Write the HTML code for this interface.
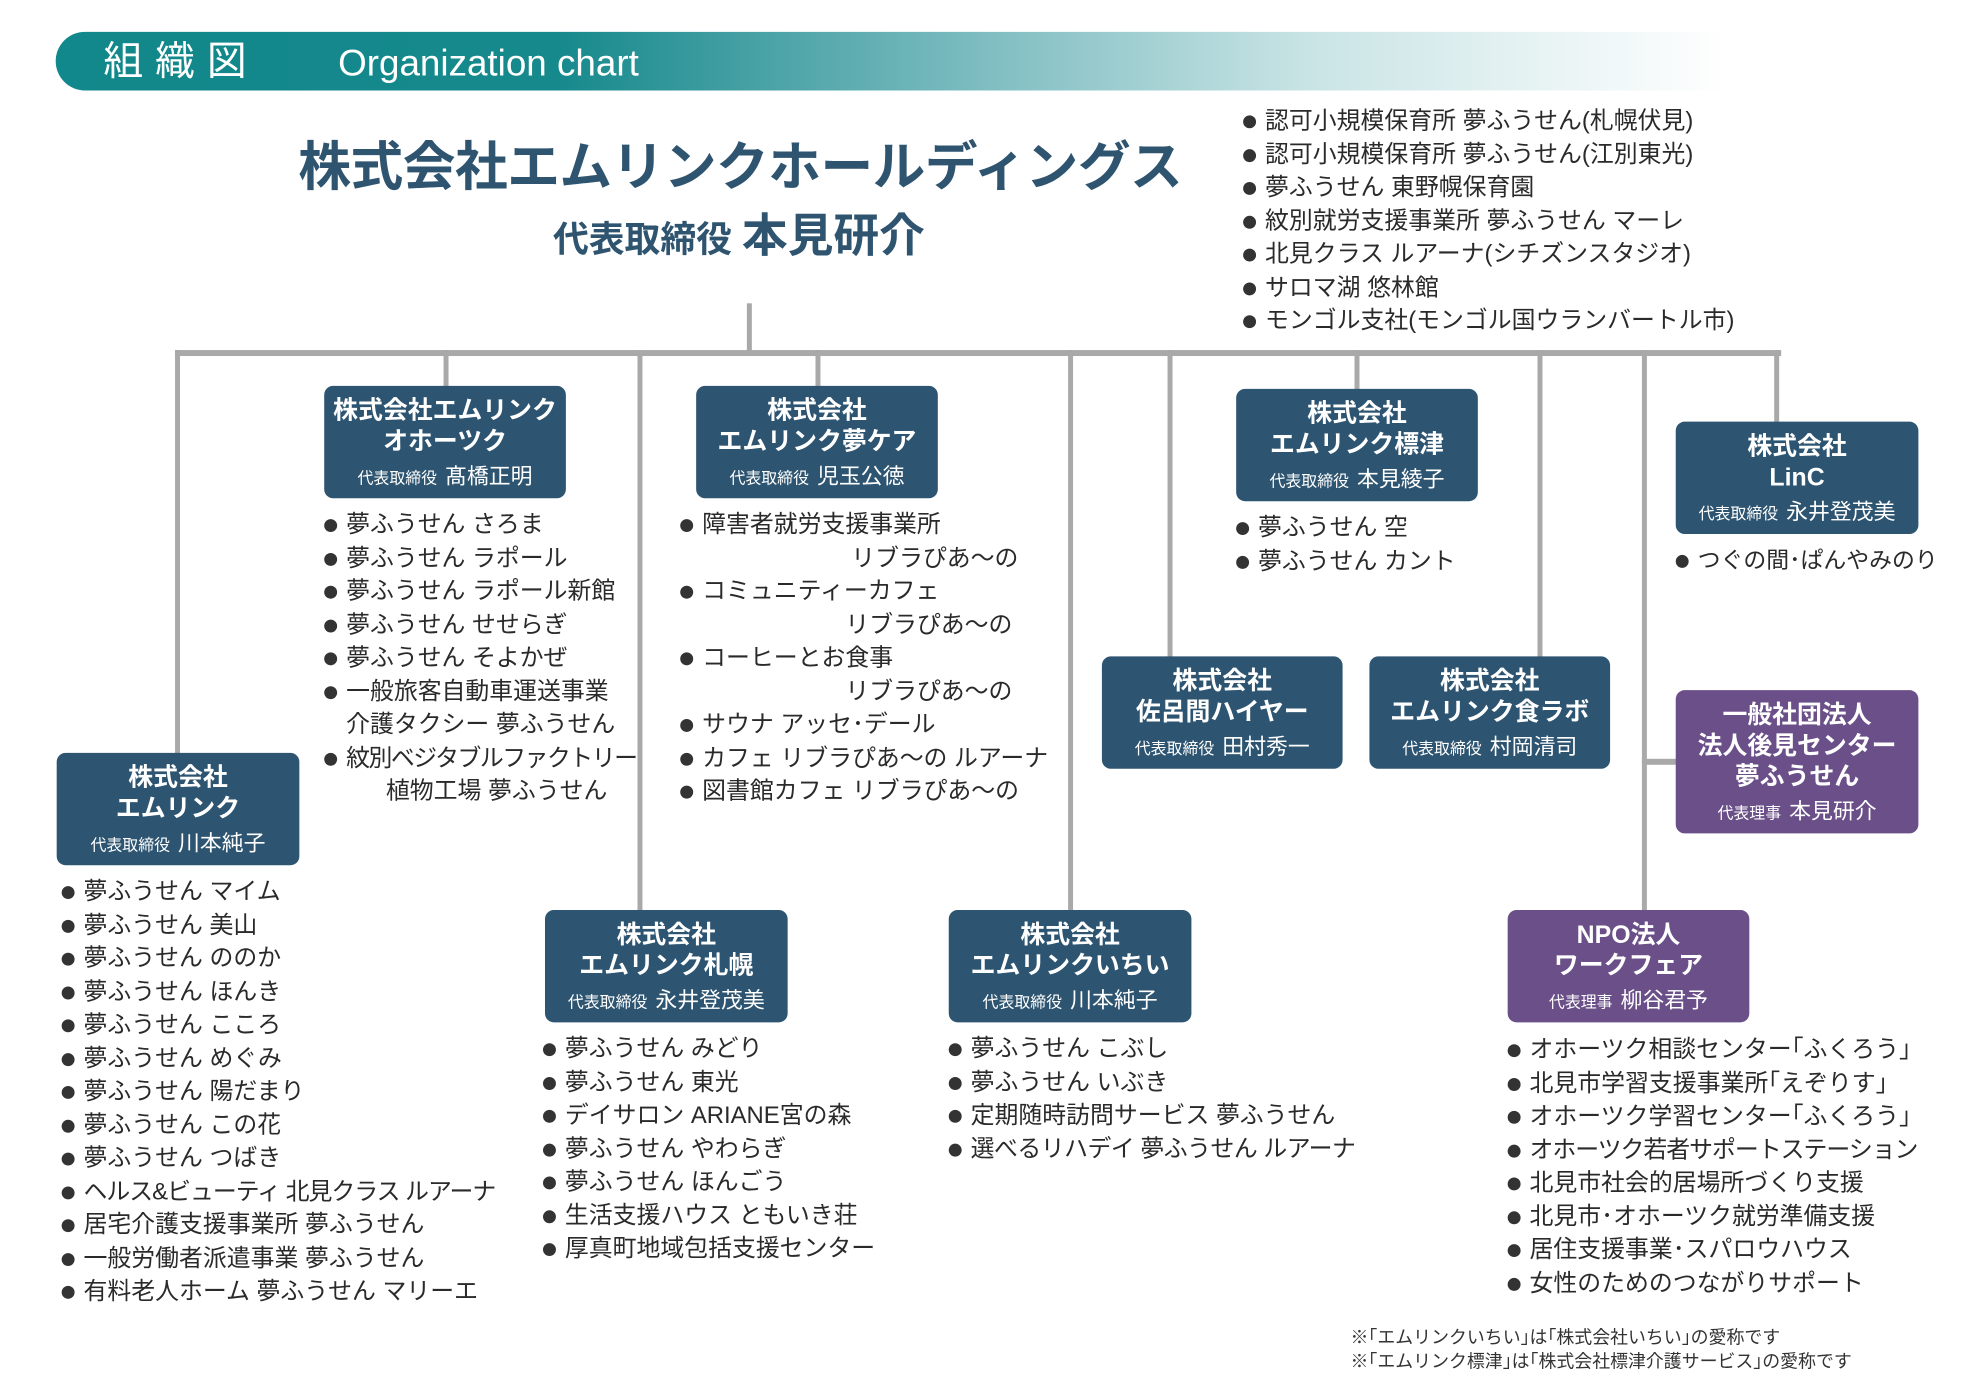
<!DOCTYPE html>
<html><head><meta charset="utf-8"><style>
*{margin:0;padding:0;box-sizing:border-box}
body{width:1980px;height:1399px;background:#fff;position:relative;overflow:hidden;font-family:"Liberation Sans","Noto Sans CJK JP",sans-serif;color:#2a2a2a}
#w{position:absolute;left:0;top:0;width:1991px;height:1407px;transform:scale(0.9945);transform-origin:0 0}
.a{position:absolute}
.band{left:56px;top:32px;width:1680px;height:59px;border-radius:30px 0 0 30px;background:linear-gradient(90deg,#11888b 0%,#16898c 30%,#7cbcc0 55%,#c9e4e5 75%,#ffffff 100%)}
.h{color:#2e5470;font-weight:bold;white-space:nowrap}
.ln{background:#a9a9a9}
.box{position:absolute;background:#2d5470;border-radius:9px;color:#fff;text-align:center;font-weight:bold;font-size:25px;line-height:31px;padding-top:10px}
.box.p{background:#6a4f88}
.box .s{font-weight:normal;font-size:16px;margin-top:4px;line-height:30px}
.box .s b{font-weight:normal;font-size:22px;margin-left:8px}
.l{position:absolute;font-size:24px;white-space:nowrap;color:#2a2a2a}
.l div{height:33.5px;line-height:33.5px;overflow:visible;padding-left:22px;position:relative}
.l div:before{content:"";position:absolute;left:0;top:11px;width:13px;height:13px;border-radius:50%;background:#333}
.l div.c:before{display:none}
</style></head><body><div id="w">
<div class="a band"></div>
<div class="a" style="left:104px;top:34px;color:#fff;font-size:40px;line-height:56px;letter-spacing:12px">組織図</div>
<div class="a" style="left:340px;top:36px;color:#fff;font-size:37px;line-height:56px">Organization chart</div>

<div class="a h" style="left:300px;top:134px;font-size:53px;line-height:70px;letter-spacing:-0.5px">株式会社エムリンクホールディングス</div>
<div class="a h" style="left:556px;top:210px;font-size:36px;line-height:54px">代表取締役 <span style="font-size:46px">本見研介</span></div>

<div class="l" style="left:1250px;top:105px"><div>認可小規模保育所 夢ふうせん(札幌伏見)</div><div>認可小規模保育所 夢ふうせん(江別東光)</div><div>夢ふうせん 東野幌保育園</div><div>紋別就労支援事業所 夢ふうせん マーレ</div><div>北見クラス ルアーナ(シチズンスタジオ)</div><div>サロマ湖 悠林館</div><div>モンゴル支社(モンゴル国ウランバートル市)</div></div>

<div class="a ln" style="left:751px;top:305px;width:5px;height:52px"></div>
<div class="a ln" style="left:176px;top:352px;width:1615px;height:6px"></div>
<div class="a ln" style="left:176px;top:352px;width:5px;height:408px"></div>
<div class="a ln" style="left:446px;top:352px;width:5px;height:40px"></div>
<div class="a ln" style="left:641px;top:352px;width:5px;height:566px"></div>
<div class="a ln" style="left:820px;top:352px;width:5px;height:40px"></div>
<div class="a ln" style="left:1074px;top:352px;width:5px;height:566px"></div>
<div class="a ln" style="left:1174px;top:352px;width:5px;height:311px"></div>
<div class="a ln" style="left:1362px;top:352px;width:5px;height:42px"></div>
<div class="a ln" style="left:1546px;top:352px;width:5px;height:311px"></div>
<div class="a ln" style="left:1651px;top:352px;width:5px;height:566px"></div>
<div class="a ln" style="left:1651px;top:763px;width:36px;height:6px"></div>
<div class="a ln" style="left:1784px;top:352px;width:5px;height:75px"></div>

<div class="box" style="left:326px;top:388px;width:243px;height:113px">株式会社エムリンク<br>オホーツク<div class="s">代表取締役<b>髙橋正明</b></div></div>
<div class="box" style="left:700px;top:388px;width:243px;height:113px">株式会社<br>エムリンク夢ケア<div class="s">代表取締役<b>児玉公徳</b></div></div>
<div class="box" style="left:1243px;top:391px;width:243px;height:113px">株式会社<br>エムリンク標津<div class="s">代表取締役<b>本見綾子</b></div></div>
<div class="box" style="left:1685px;top:424px;width:244px;height:113px">株式会社<br>LinC<div class="s">代表取締役<b>永井登茂美</b></div></div>
<div class="box" style="left:57px;top:757px;width:244px;height:113px">株式会社<br>エムリンク<div class="s">代表取締役<b>川本純子</b></div></div>
<div class="box" style="left:1108px;top:660px;width:242px;height:113px">株式会社<br>佐呂間ハイヤー<div class="s">代表取締役<b>田村秀一</b></div></div>
<div class="box" style="left:1377px;top:660px;width:242px;height:113px">株式会社<br>エムリンク食ラボ<div class="s">代表取締役<b>村岡清司</b></div></div>
<div class="box p" style="left:1685px;top:694px;width:244px;height:144px">一般社団法人<br>法人後見センター<br>夢ふうせん<div class="s">代表理事<b>本見研介</b></div></div>
<div class="box" style="left:548px;top:915px;width:244px;height:113px">株式会社<br>エムリンク札幌<div class="s">代表取締役<b>永井登茂美</b></div></div>
<div class="box" style="left:954px;top:915px;width:244px;height:113px">株式会社<br>エムリンクいちい<div class="s">代表取締役<b>川本純子</b></div></div>
<div class="box p" style="left:1516px;top:915px;width:243px;height:113px">NPO法人<br>ワークフェア<div class="s">代表理事<b>柳谷君予</b></div></div>

<div class="l" style="left:326px;top:511px"><div>夢ふうせん さろま</div><div>夢ふうせん ラポール</div><div>夢ふうせん ラポール新館</div><div>夢ふうせん せせらぎ</div><div>夢ふうせん そよかぜ</div><div>一般旅客自動車運送事業</div><div class="c">介護タクシー 夢ふうせん</div><div style="letter-spacing:-1.5px">紋別ベジタブルファクトリー</div><div class="c" style="padding-left:62px">植物工場 夢ふうせん</div></div>
<div class="l" style="left:684px;top:511px"><div>障害者就労支援事業所</div><div class="c" style="padding-left:172px">リブラぴあ〜の</div><div>コミュニティーカフェ</div><div class="c" style="padding-left:166px">リブラぴあ〜の</div><div>コーヒーとお食事</div><div class="c" style="padding-left:166px">リブラぴあ〜の</div><div>サウナ アッセ･デール</div><div>カフェ リブラぴあ〜の ルアーナ</div><div>図書館カフェ リブラぴあ〜の</div></div>
<div class="l" style="left:1243px;top:514px"><div>夢ふうせん 空</div><div>夢ふうせん カント</div></div>
<div class="l" style="left:1685px;top:547px;font-size:23px"><div>つぐの間･ぱんやみのり</div></div>
<div class="l" style="left:62px;top:880px"><div>夢ふうせん マイム</div><div>夢ふうせん 美山</div><div>夢ふうせん ののか</div><div>夢ふうせん ほんき</div><div>夢ふうせん こころ</div><div>夢ふうせん めぐみ</div><div>夢ふうせん 陽だまり</div><div>夢ふうせん この花</div><div>夢ふうせん つばき</div><div style="letter-spacing:-1px">ヘルス&amp;ビューティ 北見クラス ルアーナ</div><div>居宅介護支援事業所 夢ふうせん</div><div>一般労働者派遣事業 夢ふうせん</div><div>有料老人ホーム 夢ふうせん マリーエ</div></div>
<div class="l" style="left:546px;top:1038px"><div>夢ふうせん みどり</div><div>夢ふうせん 東光</div><div>デイサロン ARIANE宮の森</div><div>夢ふうせん やわらぎ</div><div>夢ふうせん ほんごう</div><div>生活支援ハウス ともいき荘</div><div>厚真町地域包括支援センター</div></div>
<div class="l" style="left:954px;top:1038px"><div>夢ふうせん こぶし</div><div>夢ふうせん いぶき</div><div>定期随時訪問サービス 夢ふうせん</div><div style="letter-spacing:-0.5px">選べるリハデイ 夢ふうせん ルアーナ</div></div>
<div class="l" style="left:1516px;top:1039px"><div>オホーツク相談センター｢ふくろう｣</div><div>北見市学習支援事業所｢えぞりす｣</div><div>オホーツク学習センター｢ふくろう｣</div><div style="letter-spacing:-1px">オホーツク若者サポートステーション</div><div>北見市社会的居場所づくり支援</div><div>北見市･オホーツク就労準備支援</div><div>居住支援事業･スパロウハウス</div><div>女性のためのつながりサポート</div></div>

<div class="a" style="left:1358px;top:1333px;font-size:18px;line-height:24px;white-space:nowrap;color:#333">※｢エムリンクいちい｣は｢株式会社いちい｣の愛称です<br>※｢エムリンク標津｣は｢株式会社標津介護サービス｣の愛称です</div>
</div></body></html>
